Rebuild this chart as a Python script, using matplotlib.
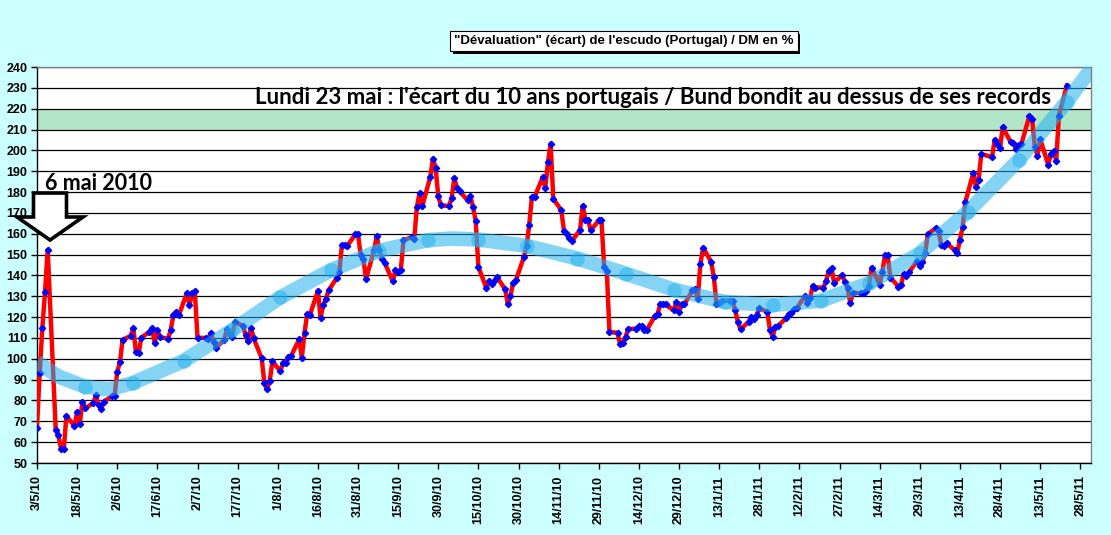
import numpy as np
import pandas as pd
import matplotlib
matplotlib.use("Agg")
import matplotlib.pyplot as plt
import matplotlib.patheffects as pe
from matplotlib.patches import Polygon

# -------------------------------
# donnees : ecart escudo / DM en % (jours ouvres)
# -------------------------------
jours = {
    "5/10": [3, 4, 5, 6, 7, 10, 11, 12, 13, 14, 17, 18, 19, 20, 21, 24, 25, 26, 27, 28, 31],
    "6/10": [1, 2, 3, 4, 7, 8, 9, 10, 11, 14, 15, 16, 17, 18, 21, 22, 23, 24, 25, 28, 29, 30],
    "7/10": [1, 2, 5, 6, 7, 8, 9, 12, 13, 14, 15, 16, 19, 20, 21, 22, 23, 26, 27, 28, 29, 30],
    "8/10": [2, 3, 4, 5, 6, 9, 10, 11, 12, 13, 16, 17, 18, 19, 20, 23, 24, 25, 26, 27, 30, 31],
    "9/10": [1, 2, 3, 6, 7, 8, 9, 10, 13, 14, 15, 16, 17, 20, 21, 22, 23, 24, 27, 28, 29, 30],
    "10/10": [1, 4, 5, 6, 7, 8, 11, 12, 13, 14, 15, 18, 19, 20, 21, 22, 25, 26, 27, 28, 29],
    "11/10": [1, 2, 3, 4, 5, 8, 9, 10, 11, 12, 15, 16, 17, 18, 19, 22, 23, 24, 25, 26, 29, 30],
    "12/10": [1, 2, 3, 6, 7, 8, 9, 10, 13, 14, 15, 16, 17, 20, 21, 22, 23, 24, 27, 28, 29, 30, 31],
    "1/11": [3, 4, 5, 6, 7, 10, 11, 12, 13, 14, 17, 18, 19, 20, 21, 24, 25, 26, 27, 28, 31],
    "2/11": [1, 2, 3, 4, 7, 8, 9, 10, 11, 14, 15, 16, 17, 18, 21, 22, 23, 24, 25, 28],
    "3/11": [1, 2, 3, 4, 7, 8, 9, 10, 11, 14, 15, 16, 17, 18, 21, 22, 23, 24, 25, 28, 29, 30, 31],
    "4/11": [1, 4, 5, 6, 7, 8, 11, 12, 13, 14, 15, 18, 19, 20, 21, 25, 26, 27, 28, 29],
    "5/11": [2, 3, 4, 5, 6, 9, 10, 11, 12, 13, 16, 17, 18, 19, 20, 23],
}

ecart = [
    67, 93.3, 114.7, 132, 152.3, 66, 63.2, 56.8, 56.5, 72.6, 67.7, 74.6, 68.8, 79.5, 76.2, 78.7, 82.4, 77.6, 76, 79.5, 82.1,
    82.1, 93.9, 98.4, 109.1, 111, 114.7, 103.2, 102.7, 110.2, 112.8, 114.7, 107.5, 113.8, 110.4, 109.6, 113.9, 121.1, 122.4, 120.8, 131.5, 125.6, 131.7,
    132.3, 110.1, 110, 109.3, 112.4, 108.2, 105.4, 109, 114.1, 111.8, 110.6, 117.8, 115.7, 111.2, 108.3, 115, 109.8, 100.2, 88.2, 85.3, 89.4, 98.7,
    94.1, 98.2, 97.9, 101, 101.4, 109.3, 100.6, 112.5, 121.3, 121, 132.6, 119.7, 125.8, 128.8, 132.8, 138.7, 141.6, 154.6, 154.6, 154.2, 159.7, 160,
    149.6, 147.8, 138.4, 152, 159, 152, 148, 146, 137.1, 142.7, 141.6, 142.7, 156.8, 158.4, 157.4, 172.8, 179.5, 173.1, 187.2, 196, 191.7, 177.9,
    173.6, 173.3, 177.1, 186.7, 182.1, 180.3, 176, 177.9, 172.8, 166.1, 144, 133.9, 137.3, 135.7, 137.3, 139.2, 133.3, 126.4, 130.1, 136.6, 137.6,
    148.8, 153.9, 164.3, 177.6, 177.6, 187, 182, 194.2, 203.2, 176.8, 171.2, 161.3, 159.7, 158, 156.5, 161.9, 173.4, 166.7, 166.7, 161.6, 166.4, 166.7,
    144, 142.1, 112.8, 112.5, 106.9, 107.7, 110.4, 114.4, 114.4, 115.5, 115.5, 113.6, 113.9, 120.6, 121.6, 126.1, 126.1, 126.1, 123.2, 127.2, 122.4, 126.1, 126.1,
    132.8, 133.3, 128.8, 145.6, 153.3, 146.5, 139.4, 126.3, 126.9, 127.8, 127.8, 127.5, 123.4, 117.6, 114.1, 117.8, 120.2, 119.2, 121, 124.2, 122.6,
    113.8, 110.6, 115.4, 115.8, 119.4, 121.4, 121.8, 123.7, 124.2, 130.1, 126.9, 129.3, 134.9, 134.2, 134.2, 137.4, 142.2, 143.4, 136.5, 140.2,
    137, 133.8, 126.9, 131.7, 131.4, 131.7, 132.6, 134.9, 143.8, 135.4, 141.8, 149.6, 149.6, 139, 134.6, 135.5, 140.7, 139.9, 141.5, 147.1, 144.4, 146.3, 150.6,
    159.9, 162.6, 161.5, 154.7, 154.2, 155.4, 152.2, 150.6, 157.2, 163.1, 175.1, 189.2, 182.3, 186, 198.3, 196.7, 205, 203.1, 201.2, 211.1,
    203.9, 203.4, 200.7, 202.7, 203.1, 216.7, 215.1, 201.8, 197.5, 205.5, 193.2, 198.3, 199.6, 195.1, 216.7, 231.1,
]

# tendance (bande bleue) et ses cercles
tendance_dates = ["3/5/10", "11/5/10", "21/5/10", "30/5/10", "8/6/10", "27/6/10", "15/7/10", "2/8/10",
                  "21/8/10", "8/9/10", "26/9/10", "5/10/10", "15/10/10", "2/11/10", "21/11/10", "9/12/10",
                  "27/12/10", "15/1/11", "2/2/11", "20/2/11", "10/3/11", "29/3/11", "16/4/11", "5/5/11",
                  "23/5/11", "1/6/11"]
tendance = [98.5, 91.5, 86.6, 85.3, 88.5, 99.1, 113.8, 129.5,
            142.6, 151.9, 156.9, 157.7, 157.2, 154.2, 148.1, 140.9,
            133.2, 127.3, 125.8, 127.9, 136.2, 150.6, 170.6, 195.4,
            223.4, 239]
cercles = ["21/5/10", "8/6/10", "27/6/10", "15/7/10", "2/8/10", "21/8/10", "8/9/10", "26/9/10",
           "15/10/10", "2/11/10", "21/11/10", "9/12/10", "27/12/10", "15/1/11", "2/2/11", "20/2/11",
           "10/3/11", "29/3/11", "16/4/11", "5/5/11", "23/5/11"]

titre = "\"Dévaluation\" (écart) de l'escudo (Portugal) / DM en %"
note_haut = "Lundi 23 mai : l'écart du 10 ans portugais / Bund bondit au dessus de ses records"
note_gauche = "6 mai 2010"

# -------------------------------
# preparation
# -------------------------------
dates = []
for mois, js in jours.items():
    dates += [f"{j}/{mois}" for j in js]
assert len(dates) == len(ecart)

x = pd.to_datetime(dates, format="%d/%m/%y")
xt = pd.to_datetime(tendance_dates, format="%d/%m/%y")
serie_t = pd.Series(tendance, index=xt)
xc = pd.to_datetime(cercles, format="%d/%m/%y")
yc = serie_t.loc[xc].values

ticks = pd.date_range("2010-05-03", periods=27, freq="15D")
tick_labels = [f"{d.day}/{d.month}/{d.strftime('%y')}" for d in ticks]

# -------------------------------
# figure
# -------------------------------
W, H = 1111, 535
fig = plt.figure(figsize=(W / 100, H / 100), dpi=100, facecolor="#CCFFFF")
ax = fig.add_axes([37 / W, 1 - 463 / H, (1091 - 37) / W, (463 - 67) / H])
ax.set_facecolor("white")

ax.axhspan(210, 220, color="#B3E6C9", zorder=0.5, lw=0)
ax.set_ylim(50, 240)
ax.set_yticks(range(50, 241, 10))
ax.yaxis.grid(True, color="black", lw=0.9, zorder=1)
ax.set_axisbelow(True)

ax.plot(x, ecart, color="#FF0000", lw=3.2, zorder=3, solid_joinstyle="round")
ax.plot(x, ecart, ls="none", marker="D", ms=3.2, color="#0000FF", zorder=4)

ax.plot(xt, tendance, color="#22B2EE", alpha=0.55, lw=10.5, zorder=5,
        solid_capstyle="butt", solid_joinstyle="round")
ax.plot(xc, yc, ls="none", marker="o", ms=10.5, color="#22B2EE", alpha=0.5,
        mec="none", zorder=6)

ax.set_xlim(pd.Timestamp("2010-05-03"), pd.Timestamp("2011-06-01"))
ax.set_xticks(ticks)
ax.set_xticklabels(tick_labels, rotation=90)
for lab in ax.get_xticklabels() + ax.get_yticklabels():
    lab.set_fontfamily("Liberation Sans")
    lab.set_fontweight("bold")
    lab.set_fontsize(9)
ax.tick_params(axis="x", direction="out", length=4, pad=5, width=1)
ax.tick_params(axis="y", direction="out", length=4, pad=3, width=1)

for s in ["left", "bottom"]:
    ax.spines[s].set_color("black")
    ax.spines[s].set_linewidth(1)
for s in ["top", "right"]:
    ax.spines[s].set_color("#808080")
    ax.spines[s].set_linewidth(1)

# titre encadre avec ombre
t = fig.text(624 / W, 1 - 41 / H, titre, ha="center", va="center", fontsize=9.5,
             fontweight="bold", family="Liberation Sans",
             bbox=dict(boxstyle="square,pad=0.3", fc="white", ec="black", lw=0.8))
t.get_bbox_patch().set_path_effects([
    pe.SimplePatchShadow(offset=(2, -2), shadow_rgbFace="black", alpha=1),
    pe.Normal()])

# annotations
fig.text(255 / W, 1 - 104 / H, note_haut, ha="left", va="baseline", fontsize=16,
         fontweight="bold", family="Lato", color="black")
fig.text(45 / W, 1 - 189.5 / H, note_gauche, ha="left", va="baseline", fontsize=15.5,
         fontweight="bold", family="Lato", color="black")

# fleche vers le pic du 6 mai
fl = [(33.5, 193), (66.5, 193), (66.5, 217), (83, 217), (50, 240), (17, 217), (33.5, 217)]
fleche = Polygon([(px / W, 1 - py / H) for px, py in fl], closed=True,
                 transform=fig.transFigure, fc="white", ec="black", lw=2.6,
                 joinstyle="miter", zorder=10)
fig.add_artist(fleche)

fig.savefig("out.png", dpi=100, facecolor=fig.get_facecolor())
